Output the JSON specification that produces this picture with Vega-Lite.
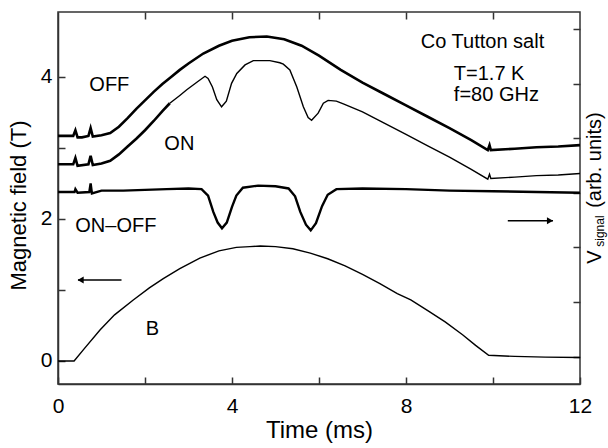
{
  "$schema": "https://vega.github.io/schema/vega-lite/v6.json",
  "width": 522,
  "height": 372,
  "autosize": {"type": "none"},
  "padding": {"left": 58, "top": 12, "right": 28, "bottom": 64},
  "background": "white",
  "config": {
    "font": "Liberation Sans",
    "view": {"stroke": "#333", "strokeWidth": 1.5},
    "axis": {"domainColor": "#333", "domainWidth": 1.5, "tickColor": "#333", "tickWidth": 1.5, "labelFont": "Liberation Sans", "labelFontSize": 21, "labelColor": "#000", "titleFont": "Liberation Sans", "titleFontWeight": "normal", "titleFontSize": 22, "titleColor": "#000", "grid": false}
  },
  "datasets": {
    "curves": [
      {"s": "OFF", "t": 0, "v": 3.17}, {"s": "OFF", "t": 0.35, "v": 3.17}, {"s": "OFF", "t": 0.4, "v": 3.25}, {"s": "OFF", "t": 0.45, "v": 3.15}, {"s": "OFF", "t": 0.55, "v": 3.15}, {"s": "OFF", "t": 0.7, "v": 3.17}, {"s": "OFF", "t": 0.75, "v": 3.28}, {"s": "OFF", "t": 0.8, "v": 3.16}, {"s": "OFF", "t": 1.0, "v": 3.18}, {"s": "OFF", "t": 1.2, "v": 3.21}, {"s": "OFF", "t": 1.4, "v": 3.3}, {"s": "OFF", "t": 1.6, "v": 3.42}, {"s": "OFF", "t": 1.8, "v": 3.55}, {"s": "OFF", "t": 2.0, "v": 3.67}, {"s": "OFF", "t": 2.2, "v": 3.79}, {"s": "OFF", "t": 2.4, "v": 3.9}, {"s": "OFF", "t": 2.6, "v": 4.0}, {"s": "OFF", "t": 2.8, "v": 4.1}, {"s": "OFF", "t": 3.0, "v": 4.19}, {"s": "OFF", "t": 3.34, "v": 4.33}, {"s": "OFF", "t": 3.7, "v": 4.44}, {"s": "OFF", "t": 4.0, "v": 4.51}, {"s": "OFF", "t": 4.4, "v": 4.56}, {"s": "OFF", "t": 4.8, "v": 4.57}, {"s": "OFF", "t": 5.2, "v": 4.53}, {"s": "OFF", "t": 5.6, "v": 4.44}, {"s": "OFF", "t": 6.0, "v": 4.3}, {"s": "OFF", "t": 6.5, "v": 4.1}, {"s": "OFF", "t": 7.0, "v": 3.92}, {"s": "OFF", "t": 7.5, "v": 3.76}, {"s": "OFF", "t": 8.0, "v": 3.6}, {"s": "OFF", "t": 8.5, "v": 3.44}, {"s": "OFF", "t": 9.0, "v": 3.28}, {"s": "OFF", "t": 9.5, "v": 3.11}, {"s": "OFF", "t": 9.88, "v": 2.97}, {"s": "OFF", "t": 9.92, "v": 3.04}, {"s": "OFF", "t": 9.95, "v": 2.97}, {"s": "OFF", "t": 10.5, "v": 2.99}, {"s": "OFF", "t": 11.0, "v": 3.01}, {"s": "OFF", "t": 11.5, "v": 3.02}, {"s": "OFF", "t": 12.0, "v": 3.04},
      {"s": "ONa", "t": 0, "v": 2.77}, {"s": "ONa", "t": 0.35, "v": 2.77}, {"s": "ONa", "t": 0.4, "v": 2.86}, {"s": "ONa", "t": 0.45, "v": 2.75}, {"s": "ONa", "t": 0.7, "v": 2.77}, {"s": "ONa", "t": 0.75, "v": 2.89}, {"s": "ONa", "t": 0.8, "v": 2.76}, {"s": "ONa", "t": 1.0, "v": 2.78}, {"s": "ONa", "t": 1.2, "v": 2.82}, {"s": "ONa", "t": 1.4, "v": 2.91}, {"s": "ONa", "t": 1.6, "v": 3.02}, {"s": "ONa", "t": 1.8, "v": 3.13}, {"s": "ONa", "t": 2.0, "v": 3.25}, {"s": "ONa", "t": 2.2, "v": 3.38}, {"s": "ONa", "t": 2.4, "v": 3.52}, {"s": "ONa", "t": 2.57, "v": 3.63},
      {"s": "ONb", "t": 2.57, "v": 3.63}, {"s": "ONb", "t": 2.8, "v": 3.74}, {"s": "ONb", "t": 2.96, "v": 3.82}, {"s": "ONb", "t": 3.2, "v": 3.93}, {"s": "ONb", "t": 3.38, "v": 4.01}, {"s": "ONb", "t": 3.45, "v": 3.98}, {"s": "ONb", "t": 3.55, "v": 3.86}, {"s": "ONb", "t": 3.65, "v": 3.68}, {"s": "ONb", "t": 3.76, "v": 3.58}, {"s": "ONb", "t": 3.87, "v": 3.66}, {"s": "ONb", "t": 3.99, "v": 3.91}, {"s": "ONb", "t": 4.11, "v": 4.05}, {"s": "ONb", "t": 4.3, "v": 4.17}, {"s": "ONb", "t": 4.49, "v": 4.23}, {"s": "ONb", "t": 4.87, "v": 4.23}, {"s": "ONb", "t": 5.1, "v": 4.2}, {"s": "ONb", "t": 5.18, "v": 4.18}, {"s": "ONb", "t": 5.33, "v": 4.1}, {"s": "ONb", "t": 5.49, "v": 3.86}, {"s": "ONb", "t": 5.64, "v": 3.58}, {"s": "ONb", "t": 5.75, "v": 3.43}, {"s": "ONb", "t": 5.83, "v": 3.39}, {"s": "ONb", "t": 5.98, "v": 3.49}, {"s": "ONb", "t": 6.1, "v": 3.63}, {"s": "ONb", "t": 6.21, "v": 3.67}, {"s": "ONb", "t": 6.4, "v": 3.66}, {"s": "ONb", "t": 6.56, "v": 3.62}, {"s": "ONb", "t": 7.0, "v": 3.51}, {"s": "ONb", "t": 7.5, "v": 3.35}, {"s": "ONb", "t": 8.0, "v": 3.19}, {"s": "ONb", "t": 8.5, "v": 3.03}, {"s": "ONb", "t": 9.0, "v": 2.87}, {"s": "ONb", "t": 9.5, "v": 2.7}, {"s": "ONb", "t": 9.88, "v": 2.56}, {"s": "ONb", "t": 9.92, "v": 2.63}, {"s": "ONb", "t": 9.95, "v": 2.57}, {"s": "ONb", "t": 10.5, "v": 2.59}, {"s": "ONb", "t": 11.0, "v": 2.61}, {"s": "ONb", "t": 11.5, "v": 2.62}, {"s": "ONb", "t": 12.0, "v": 2.64},
      {"s": "DIFF", "t": 0, "v": 2.38}, {"s": "DIFF", "t": 0.38, "v": 2.38}, {"s": "DIFF", "t": 0.4, "v": 2.42}, {"s": "DIFF", "t": 0.45, "v": 2.37}, {"s": "DIFF", "t": 0.72, "v": 2.38}, {"s": "DIFF", "t": 0.75, "v": 2.5}, {"s": "DIFF", "t": 0.78, "v": 2.36}, {"s": "DIFF", "t": 1.0, "v": 2.4}, {"s": "DIFF", "t": 1.5, "v": 2.4}, {"s": "DIFF", "t": 2.0, "v": 2.41}, {"s": "DIFF", "t": 2.5, "v": 2.42}, {"s": "DIFF", "t": 3.0, "v": 2.43}, {"s": "DIFF", "t": 3.3, "v": 2.42}, {"s": "DIFF", "t": 3.45, "v": 2.33}, {"s": "DIFF", "t": 3.57, "v": 2.1}, {"s": "DIFF", "t": 3.67, "v": 1.95}, {"s": "DIFF", "t": 3.77, "v": 1.87}, {"s": "DIFF", "t": 3.88, "v": 1.95}, {"s": "DIFF", "t": 4.0, "v": 2.17}, {"s": "DIFF", "t": 4.1, "v": 2.33}, {"s": "DIFF", "t": 4.25, "v": 2.44}, {"s": "DIFF", "t": 4.6, "v": 2.47}, {"s": "DIFF", "t": 5.0, "v": 2.46}, {"s": "DIFF", "t": 5.3, "v": 2.43}, {"s": "DIFF", "t": 5.45, "v": 2.32}, {"s": "DIFF", "t": 5.57, "v": 2.1}, {"s": "DIFF", "t": 5.7, "v": 1.92}, {"s": "DIFF", "t": 5.81, "v": 1.84}, {"s": "DIFF", "t": 5.93, "v": 1.94}, {"s": "DIFF", "t": 6.07, "v": 2.18}, {"s": "DIFF", "t": 6.2, "v": 2.34}, {"s": "DIFF", "t": 6.4, "v": 2.42}, {"s": "DIFF", "t": 7.0, "v": 2.43}, {"s": "DIFF", "t": 8.0, "v": 2.42}, {"s": "DIFF", "t": 9.0, "v": 2.4}, {"s": "DIFF", "t": 10.0, "v": 2.39}, {"s": "DIFF", "t": 11.0, "v": 2.38}, {"s": "DIFF", "t": 12.0, "v": 2.37},
      {"s": "B", "t": 0, "v": 0}, {"s": "B", "t": 0.37, "v": 0}, {"s": "B", "t": 0.6, "v": 0.17}, {"s": "B", "t": 0.97, "v": 0.44}, {"s": "B", "t": 1.3, "v": 0.65}, {"s": "B", "t": 1.73, "v": 0.86}, {"s": "B", "t": 2.1, "v": 1.03}, {"s": "B", "t": 2.42, "v": 1.16}, {"s": "B", "t": 2.8, "v": 1.3}, {"s": "B", "t": 3.26, "v": 1.45}, {"s": "B", "t": 3.7, "v": 1.55}, {"s": "B", "t": 4.1, "v": 1.6}, {"s": "B", "t": 4.41, "v": 1.61}, {"s": "B", "t": 4.65, "v": 1.62}, {"s": "B", "t": 5.0, "v": 1.61}, {"s": "B", "t": 5.4, "v": 1.58}, {"s": "B", "t": 5.8, "v": 1.52}, {"s": "B", "t": 6.2, "v": 1.44}, {"s": "B", "t": 6.6, "v": 1.34}, {"s": "B", "t": 7.0, "v": 1.22}, {"s": "B", "t": 7.4, "v": 1.09}, {"s": "B", "t": 7.8, "v": 0.95}, {"s": "B", "t": 8.11, "v": 0.86}, {"s": "B", "t": 8.5, "v": 0.71}, {"s": "B", "t": 8.9, "v": 0.55}, {"s": "B", "t": 9.3, "v": 0.37}, {"s": "B", "t": 9.6, "v": 0.22}, {"s": "B", "t": 9.9, "v": 0.08}, {"s": "B", "t": 10.5, "v": 0.065}, {"s": "B", "t": 11.2, "v": 0.055}, {"s": "B", "t": 12.0, "v": 0.05}
    ],
    "labels": [
      {"t": 1.18, "v": 3.89, "txt": "OFF", "al": "c"},
      {"t": 2.79, "v": 3.06, "txt": "ON", "al": "c"},
      {"t": 1.33, "v": 1.9, "txt": "ON–OFF", "al": "c"},
      {"t": 2.17, "v": 0.45, "txt": "B", "al": "c"},
      {"t": 8.34, "v": 4.49, "txt": "Co Tutton salt", "al": "l"},
      {"t": 9.1, "v": 4.04, "txt": "T=1.7 K", "al": "l"},
      {"t": 9.1, "v": 3.74, "txt": "f=80 GHz", "al": "l"}
    ],
    "arrows": [
      {"t1": 0.46, "t2": 1.46, "v": 1.14, "head": 0.52, "dir": "triangle-left"},
      {"t1": 10.34, "t2": 11.38, "v": 1.975, "head": 11.31, "dir": "triangle-right"}
    ],
    "rlabel": [
      {"t": 12.345, "v": 1.465, "txt": "V", "fs": 20},
      {"t": 12.47, "v": 1.83, "txt": "signal", "fs": 12},
      {"t": 12.345, "v": 2.83, "txt": "(arb. units)", "fs": 20}
    ],
    "dummy": [{"t": 0, "r": 0}]
  },
  "layer": [
    {
      "encoding": {
        "x": {"field": "t", "type": "quantitative", "scale": {"domain": [0, 12], "nice": false, "zero": false},
          "axis": {"orient": "bottom", "values": [0, 2, 4, 6, 8, 10, 12], "format": "d", "labelExpr": "datum.value % 4 == 0 ? datum.label : ''", "tickSize": -7, "labelPadding": 18, "title": "Time (ms)", "titleFontSize": 24, "titlePadding": 2, "labelFlush": false}},
        "y": {"field": "v", "type": "quantitative", "scale": {"domain": [-0.324, 4.915], "nice": false, "zero": false},
          "axis": {"orient": "left", "values": [0, 0.5, 1, 1.5, 2, 2.5, 3, 3.5, 4, 4.5], "format": "d", "labelExpr": "datum.value % 2 == 0 ? datum.label : ''", "tickSize": -7, "labelPadding": 13, "title": "Magnetic field (T)", "titleAngle": 270, "titleBaseline": "middle", "titleX": -40, "titleY": 193, "labelFlush": false}}
      },
      "layer": [
        {"data": {"name": "curves"}, "transform": [{"filter": "datum.s == 'OFF'"}], "mark": {"type": "line", "color": "#000", "strokeWidth": 2.6}},
        {"data": {"name": "curves"}, "transform": [{"filter": "datum.s == 'ONa'"}], "mark": {"type": "line", "color": "#000", "strokeWidth": 2.6}},
        {"data": {"name": "curves"}, "transform": [{"filter": "datum.s == 'ONb'"}], "mark": {"type": "line", "color": "#000", "strokeWidth": 1.4}},
        {"data": {"name": "curves"}, "transform": [{"filter": "datum.s == 'DIFF'"}], "mark": {"type": "line", "color": "#000", "strokeWidth": 2.4}},
        {"data": {"name": "curves"}, "transform": [{"filter": "datum.s == 'B'"}], "mark": {"type": "line", "color": "#000", "strokeWidth": 1.4}},
        {"data": {"name": "labels"}, "transform": [{"filter": "datum.al == 'c'"}], "mark": {"type": "text", "fontSize": 20, "color": "#000", "align": "center", "baseline": "middle"}, "encoding": {"text": {"field": "txt"}}},
        {"data": {"name": "labels"}, "transform": [{"filter": "datum.al == 'l'"}], "mark": {"type": "text", "fontSize": 20, "color": "#000", "align": "left", "baseline": "middle"}, "encoding": {"text": {"field": "txt"}}},
        {"data": {"name": "arrows"}, "mark": {"type": "rule", "color": "#000", "strokeWidth": 1.5}, "encoding": {"x": {"field": "t1", "type": "quantitative"}, "x2": {"field": "t2"}}},
        {"data": {"name": "arrows"}, "mark": {"type": "point", "filled": true, "color": "#000", "opacity": 1, "size": 50}, "encoding": {"x": {"field": "head", "type": "quantitative"}, "shape": {"field": "dir", "type": "nominal", "scale": null}}},
        {"data": {"name": "rlabel"}, "mark": {"type": "text", "color": "#000", "angle": 270, "align": "center", "baseline": "middle", "clip": false}, "encoding": {"text": {"field": "txt"}, "size": {"field": "fs", "type": "quantitative", "scale": null}}}
      ]
    },
    {
      "data": {"name": "dummy"},
      "mark": {"type": "point", "opacity": 0},
      "encoding": {
        "x": {"field": "t", "type": "quantitative", "scale": {"domain": [0, 12], "nice": false, "zero": false},
          "axis": {"orient": "top", "values": [2, 4, 6, 8, 10], "labels": false, "title": null, "tickSize": -7, "domain": false}},
        "y": {"field": "r", "type": "quantitative", "scale": {"domain": [-0.5, 6.31], "nice": false, "zero": false},
          "axis": {"orient": "right", "values": [0, 1, 2, 3, 4, 5, 6], "labels": false, "title": null, "tickSize": -7, "domain": false}}
      }
    }
  ],
  "resolve": {"scale": {"y": "independent"}, "axis": {"x": "independent", "y": "independent"}}
}
